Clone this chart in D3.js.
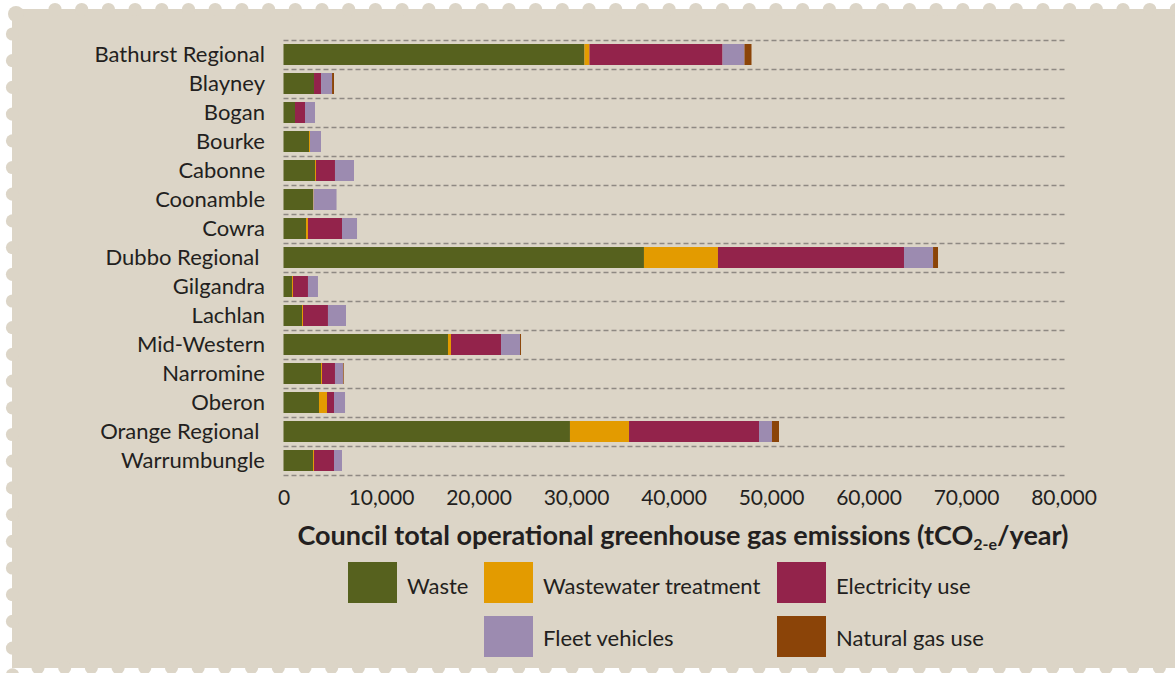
<!DOCTYPE html>
<html>
<head>
<meta charset="UTF-8">
<title>Council emissions</title>
<script src="https://cdn.jsdelivr.net/npm/d3@7/dist/d3.min.js"></script>
<style>
body { margin: 0; background: #fff; }
text { font-family: Lato, "Open Sans", sans-serif; fill: #231f20; }
.grid line { stroke: #8e8983; stroke-width: 1.5; stroke-dasharray: 5 3; }
</style>
</head>
<body>
<div id="chart"></div>
<script>
var councils = ["Bathurst Regional", "Blayney", "Bogan", "Bourke", "Cabonne", "Coonamble", "Cowra",
  "Dubbo Regional\u00a0", "Gilgandra", "Lachlan", "Mid-Western", "Narromine", "Oberon",
  "Orange Regional\u00a0", "Warrumbungle"];
var sources = ["Waste", "Wastewater treatment", "Electricity use", "Fleet vehicles", "Natural gas use"];
var colours = ["#56611e", "#e39b00", "#93234b", "#9c8bb0", "#8b4408"];
var waste = [30870, 3130, 1180, 2615, 3230, 3030, 2310, 36970, 870, 1900, 16870, 3850, 3640, 29380, 3030];
var wastewater = [510, 0, 0, 100, 100, 50, 200, 7590, 100, 100, 310, 100, 820, 6060, 100];
var electricity = [13650, 720, 1025, 0, 1950, 0, 3490, 19080, 1540, 2560, 5130, 1330, 720, 13330, 2050];
var fleet = [2250, 1130, 1025, 1130, 1950, 2360, 1540, 2980, 1025, 1850, 1950, 820, 1130, 1330, 820];
var gas = [720, 200, 0, 0, 0, 0, 0, 510, 0, 0, 100, 70, 0, 720, 0];
var xTicks = [0, 10000, 20000, 30000, 40000, 50000, 60000, 70000, 80000];

var W = 1175, H = 673;
var svg = d3.select("#chart").append("svg").attr("width", W).attr("height", H);

// stamp shaped background
var bg = "#dcd5c7";
var stamp = svg.append("g").attr("fill", bg);
stamp.append("rect").attr("x", 12).attr("y", 9).attr("width", W - 12).attr("height", 659);
stamp.append("circle").attr("cx", 16).attr("cy", 14).attr("r", 8);
for (var k = 0; k < 43; k++) {
  stamp.append("circle").attr("cx", 55 + k * 26.7).attr("cy", 9.5).attr("r", 6.6);
  stamp.append("circle").attr("cx", 38 + k * 26.7).attr("cy", 667.5).attr("r", 6.6);
}
for (var k = 0; k < 25; k++) {
  stamp.append("circle").attr("cx", 12.5).attr("cy", 34 + k * 26.7).attr("r", 6.6);
}

var x0 = 283.5, x1 = 1063.5, padTop = 40, band = 29;
var x = d3.scaleLinear().domain([0, 80000]).range([x0, x1]);
var y = d3.scaleBand().domain(councils).range([padTop, padTop + band * councils.length])
  .paddingInner(0.276).paddingOuter(0.138);

// dashed lines between rows
var lines = d3.range(councils.length + 1).map(function(i) { return padTop + i * band + 0.5; });
svg.append("g").attr("class", "grid").selectAll("line").data(lines).enter().append("line")
  .attr("x1", x0).attr("x2", 1066).attr("y1", function(d) { return d; }).attr("y2", function(d) { return d; });

var rows = councils.map(function(c, i) {
  return { name: c, s0: waste[i], s1: wastewater[i], s2: electricity[i], s3: fleet[i], s4: gas[i] };
});
var stack = d3.stack().keys(["s0", "s1", "s2", "s3", "s4"]);
var series = stack(rows);

svg.append("g").selectAll("g").data(series).enter().append("g")
  .attr("fill", function(d, i) { return colours[i]; })
  .selectAll("rect").data(function(d) { return d; }).enter().append("rect")
  .attr("x", function(d) { return x(d[0]); })
  .attr("y", function(d) { return y(d.data.name); })
  .attr("width", function(d) { return x(d[1]) - x(d[0]); })
  .attr("height", y.bandwidth());

// category labels
svg.append("g").selectAll("text").data(councils).enter().append("text")
  .attr("x", 265).attr("y", function(d) { return y(d) + y.bandwidth() / 2 + 7.5; })
  .attr("text-anchor", "end").attr("font-size", 22)
  .text(function(d) { return d; });

// x axis
var xAxis = d3.axisBottom(x).tickValues(xTicks).tickSize(0).tickPadding(0)
  .tickFormat(d3.format(","));
var ax = svg.append("g").attr("transform", "translate(0,489)").call(xAxis);
ax.select(".domain").remove();
ax.selectAll("text").attr("font-size", 21).attr("fill", "#231f20").attr("dy", "0.75em")
  .style("font-family", "Lato, sans-serif");

var title = svg.append("text").attr("x", 683).attr("y", 545).attr("text-anchor", "middle")
  .attr("font-size", 27).attr("font-weight", "bold");
title.append("tspan").text("Council total operational greenhouse gas emissions (tCO");
title.append("tspan").attr("font-size", 16).attr("dy", 5).text("2-e");
title.append("tspan").attr("dy", -5).text("/year)");

// legend
var legendPos = [[348, 562], [484, 562], [777, 562], [484, 616], [777, 616]];
var legend = svg.append("g").selectAll("g").data(sources).enter().append("g")
  .attr("transform", function(d, i) { return "translate(" + legendPos[i][0] + "," + legendPos[i][1] + ")"; });
legend.append("rect").attr("width", 49).attr("height", 41)
  .attr("fill", function(d, i) { return colours[i]; });
legend.append("text").attr("x", 59).attr("y", function(d, i) { return i < 3 ? 32 : 30; })
  .attr("font-size", 22)
  .text(function(d) { return d; });
</script>
</body>
</html>
